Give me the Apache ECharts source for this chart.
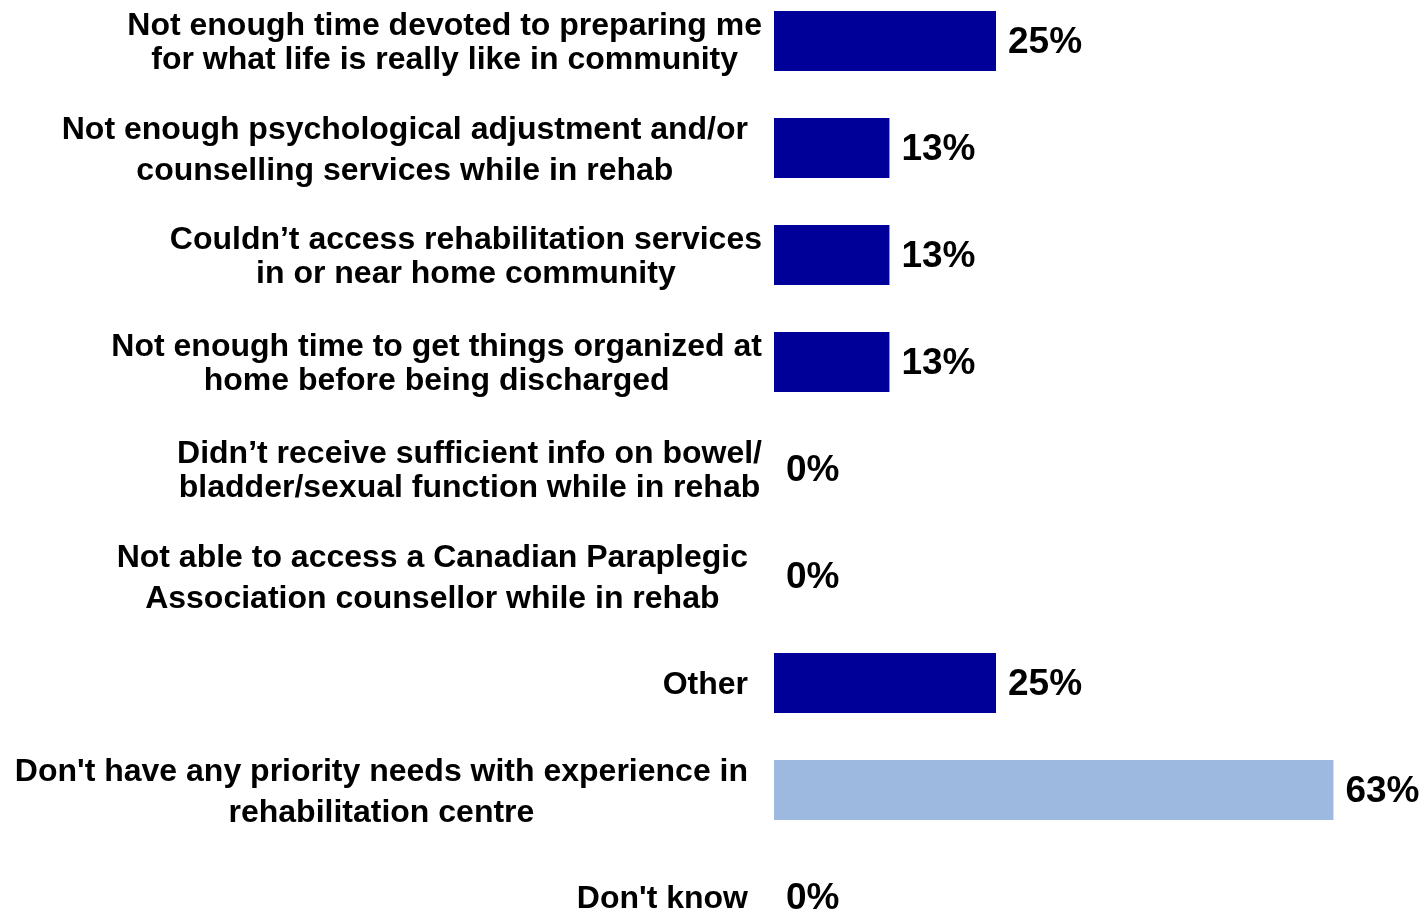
<!DOCTYPE html>
<html>
<head>
<meta charset="utf-8">
<title>Priority needs - rehabilitation centre</title>
<script src="https://cdn.jsdelivr.net/npm/echarts@6/dist/echarts.min.js"></script>
<style>
  html, body { margin: 0; padding: 0; background: #fff; }
  #chart { width: 1424px; height: 912px; }
</style>
</head>
<body>
<div id="chart"></div>
<script>
// categories, top to bottom
const categories = [
  "Not enough time devoted to preparing me\nfor what life is really like in community",
  "Not enough psychological adjustment and/or\ncounselling services while in rehab",
  "Couldn\u2019t access rehabilitation services\nin or near home community",
  "Not enough time to get things organized at\nhome before being discharged",
  "Didn\u2019t receive sufficient info on bowel/\nbladder/sexual function while in rehab",
  "Not able to access a Canadian Paraplegic\nAssociation counsellor while in rehab",
  "Other",
  "Don't have any priority needs with experience in\nrehabilitation centre",
  "Don't know"
];
const values = [25, 13, 13, 13, 0, 0, 25, 63, 0];

// labels set with the wider line spacing / bigger gap to the axis
const looseLabels = [1, 5, 6, 7, 8];
const highlightIndex = 7;

const chart = echarts.init(document.getElementById("chart"));

const labelFont = {
  fontFamily: "'Liberation Sans', Arial, sans-serif",
  fontWeight: "bold",
  fontSize: 32,
  color: "#000",
};

function labelAxis(loose) {
  return {
    type: "category",
    data: categories,
    inverse: true,
    position: "left",
    axisLine: { show: false },
    axisTick: { show: false },
    axisLabel: {
      ...labelFont,
      interval: 0,
      margin: loose ? 26 : 12,
      lineHeight: loose ? 41 : 34,
      padding: [5, 0, 0, 0],
      formatter: function (value, index) {
        const isLoose = looseLabels.indexOf(index) >= 0;
        if (isLoose !== loose) return "";
        // center each line inside the label block
        return value
          .split("\n")
          .map((line) => "{c|" + line + "}")
          .join("\n");
      },
      rich: {
        c: { align: "center", lineHeight: loose ? 41 : 34 },
      },
    },
  };
}

const option = {
  animation: false,
  grid: {
    left: 774,
    right: 28.4,
    top: -12.5,
    bottom: -38.5,
    outerBoundsMode: "none",
    containLabel: false,
  },
  xAxis: {
    type: "value",
    min: 0,
    max: 70,
    show: false,
  },
  yAxis: [labelAxis(false), labelAxis(true)],
  series: [
    {
      type: "bar",
      yAxisIndex: 0,
      data: values,
      barWidth: 60,
      itemStyle: {
        color: function (p) {
          return p.dataIndex === highlightIndex ? "#9DB9DF" : "#000099";
        },
      },
      label: {
        show: true,
        position: "right",
        distance: 12,
        offset: [0, 2],
        formatter: "{c}%",
        fontFamily: "'Liberation Sans', Arial, sans-serif",
        fontWeight: "bold",
        fontSize: 37,
        color: "#000",
      },
    },
  ],
};

chart.setOption(option);
</script>
</body>
</html>
